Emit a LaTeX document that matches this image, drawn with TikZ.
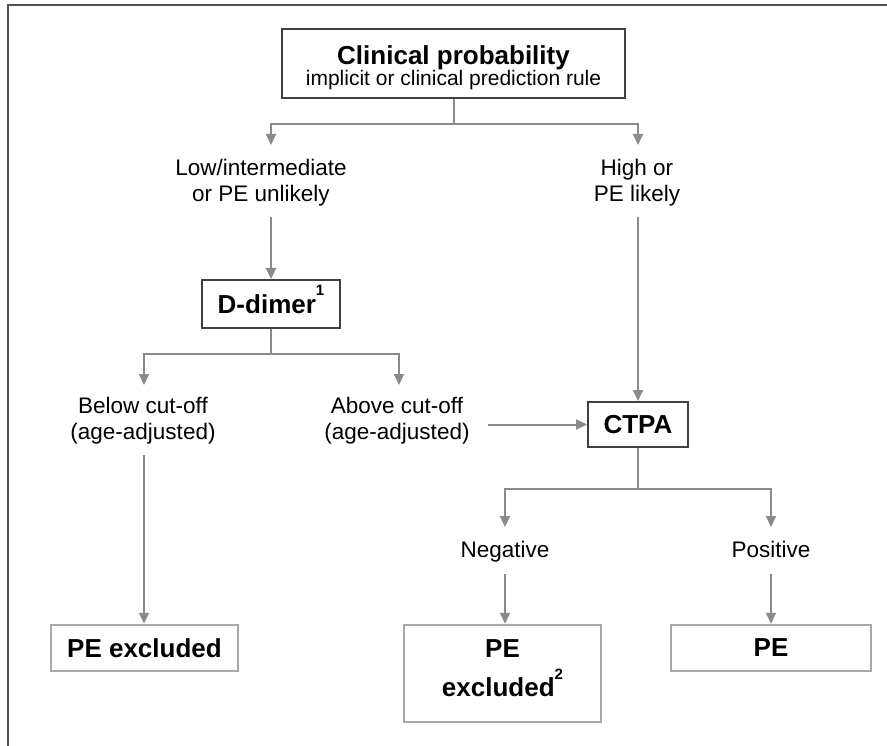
\documentclass[tikz,border=0pt]{standalone}
\usepackage{fontspec}
\setmainfont{Liberation Sans}
\usetikzlibrary{arrows.meta}
\definecolor{arrgray}{HTML}{8A8A8A}
\definecolor{boxdark}{HTML}{404040}
\definecolor{boxlight}{HTML}{A8A8A8}
\definecolor{framec}{HTML}{505050}
\begin{document}
\begin{tikzpicture}[x=1pt,y=-1pt,
  conn/.style={draw=arrgray,line width=2pt},
  arr/.style={conn,-{Triangle[length=11pt,width=10pt]}},
  mainbox/.style={draw=boxdark,line width=2pt,inner sep=0pt,align=center},
  endbox/.style={draw=boxlight,line width=2.5pt,inner sep=0pt,align=center,font=\fontsize{26}{37}\selectfont\bfseries},
  lbl/.style={align=center,font=\fontsize{22.5}{26}\selectfont,inner sep=0pt,anchor=base},
  boldtxt/.style={font=\fontsize{26}{30}\selectfont\bfseries}
]
\useasboundingbox (0,0) rectangle (887,746);
\draw[framec,line width=2pt] (887,5) -- (8,5) -- (8,746);

% boxes
\node[mainbox,minimum width=343pt,minimum height=69pt] (clin) at (453.5,63.5)
  {\rule{0pt}{27pt}{\fontsize{26}{23}\selectfont\bfseries Clinical probability}\\[0pt]
   {\fontsize{21}{23}\selectfont implicit or clinical prediction rule}};
\node[mainbox,boldtxt,minimum width=138pt,minimum height=48pt] (ddim) at (271,304)
  {D-dimer\raisebox{18pt}[0pt][0pt]{\fontsize{15}{15}\selectfont 1}};
\node[mainbox,boldtxt,minimum width=100pt,minimum height=45pt] (ctpa) at (638,424.5) {CTPA};
\node[endbox,minimum width=187pt,minimum height=46pt] (pex1) at (144.5,648) {PE excluded};
\node[endbox,minimum width=197pt,minimum height=97pt] (pex2) at (502.5,673.5)
  {PE\\[2pt]excluded\raisebox{17pt}[0pt][0pt]{\fontsize{15}{15}\selectfont 2}\rule[-10pt]{0pt}{0pt}};
\node[endbox,minimum width=200pt,minimum height=46pt] (pe) at (771,648) {PE};

% labels
\node[lbl] (low) at (261,202) {Low/intermediate\\or PE unlikely};
\node[lbl] (high) at (637,202) {High or\\PE likely};
\node[lbl] (below) at (143,439) {Below cut-off\\(age-adjusted)};
\node[lbl] (above) at (397,439) {Above cut-off\\(age-adjusted)};
\node[lbl] (neg) at (505,557) {Negative};
\node[lbl] (pos) at (771,557) {Positive};

% connector ends
\coordinate (tLow) at (271,145);
\coordinate (tHigh) at (638,145);
\coordinate (sLow) at (271,217);
\coordinate (sHigh) at (638,217);
\coordinate (tBelow) at (144,385);
\coordinate (tAbove) at (399,385);
\coordinate (sBelow) at (144,455);
\coordinate (sAbove) at (488,424.5);
\coordinate (tNeg) at (505,527);
\coordinate (tPos) at (771,527);
\coordinate (sNeg) at (505,574);
\coordinate (sPos) at (771,574);

% connectors
\draw[arr] (clin.south) -- ++(0,25) -| (tLow);
\draw[arr] (clin.south) -- ++(0,25) -| (tHigh);
\draw[arr] (sLow) -- (ddim.north);
\draw[arr] (sHigh) -- (ctpa.north);
\draw[arr] (ddim.south) -- ++(0,25) -| (tBelow);
\draw[arr] (ddim.south) -- ++(0,25) -| (tAbove);
\draw[arr] (sAbove) -- (ctpa.west);
\draw[arr] (ctpa.south) -- ++(0,41) -| (tNeg);
\draw[arr] (ctpa.south) -- ++(0,41) -| (tPos);
\draw[arr] (sBelow) -- (sBelow |- pex1.north);
\draw[arr] (sNeg) -- (sNeg |- pex2.north);
\draw[arr] (sPos) -- (sPos |- pe.north);
\end{tikzpicture}
\end{document}
